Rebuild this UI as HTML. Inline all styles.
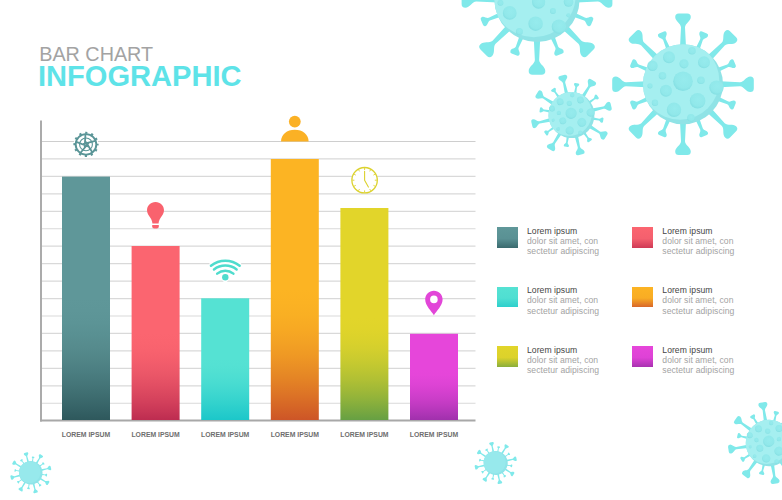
<!DOCTYPE html>
<html><head><meta charset="utf-8">
<style>
html,body{margin:0;padding:0;background:#fff;}
body{width:782px;height:500px;overflow:hidden;position:relative;font-family:"Liberation Sans",Arial,sans-serif;}
svg.bg{position:absolute;left:0;top:0;}
.t1{position:absolute;left:39.2px;top:42px;font-size:19.8px;color:#a3a3a3;line-height:24px;white-space:nowrap;}
.t2{position:absolute;left:38.4px;top:58.7px;font-size:30.3px;font-weight:bold;color:#5ee3e8;line-height:34px;white-space:nowrap;transform:scaleX(0.96);transform-origin:0 0;}
.lbl{position:absolute;top:430px;width:70px;text-align:center;font-size:6.85px;font-weight:bold;color:#6e6e6e;line-height:10px;white-space:nowrap;}
.lg{position:absolute;}
.sw{position:absolute;width:20.5px;height:20.5px;}
.lt{position:absolute;font-size:8.6px;line-height:10.15px;color:#a3a3a3;white-space:nowrap;letter-spacing:0.05px;}
.lt b{font-weight:normal;color:#454545;display:block;}
</style></head>
<body>
<svg class="bg" width="782" height="500" viewBox="0 0 782 500">
<defs>
  <linearGradient id="g1" x1="0" y1="0" x2="0" y2="1"><stop offset="0" stop-color="#5f9799"/><stop offset="0.500" stop-color="#5f9799"/><stop offset="0.550" stop-color="#5e9698"/><stop offset="0.600" stop-color="#5c9496"/><stop offset="0.650" stop-color="#599092"/><stop offset="0.700" stop-color="#568b8d"/><stop offset="0.750" stop-color="#518587"/><stop offset="0.800" stop-color="#4b7e81"/><stop offset="0.850" stop-color="#457679"/><stop offset="0.900" stop-color="#3e6d70"/><stop offset="0.950" stop-color="#366367"/><stop offset="1.000" stop-color="#2e585c"/></linearGradient>
  <linearGradient id="g2" x1="0" y1="0" x2="0" y2="1"><stop offset="0" stop-color="#fb6570"/><stop offset="0.500" stop-color="#fb6570"/><stop offset="0.550" stop-color="#fa646f"/><stop offset="0.600" stop-color="#f8626e"/><stop offset="0.650" stop-color="#f45e6c"/><stop offset="0.700" stop-color="#ef5a6a"/><stop offset="0.750" stop-color="#e95567"/><stop offset="0.800" stop-color="#e24e63"/><stop offset="0.850" stop-color="#da475f"/><stop offset="0.900" stop-color="#d23f5b"/><stop offset="0.950" stop-color="#c83656"/><stop offset="1.000" stop-color="#bd2c50"/></linearGradient>
  <linearGradient id="g3" x1="0" y1="0" x2="0" y2="1"><stop offset="0" stop-color="#55e2d3"/><stop offset="0.500" stop-color="#55e2d3"/><stop offset="0.550" stop-color="#54e1d3"/><stop offset="0.600" stop-color="#51e0d2"/><stop offset="0.650" stop-color="#4dded2"/><stop offset="0.700" stop-color="#48dcd1"/><stop offset="0.750" stop-color="#42d9d0"/><stop offset="0.800" stop-color="#3bd6cf"/><stop offset="0.850" stop-color="#34d3cd"/><stop offset="0.900" stop-color="#2ccfcc"/><stop offset="0.950" stop-color="#24cbcb"/><stop offset="1.000" stop-color="#1bc7c9"/></linearGradient>
  <linearGradient id="g4" x1="0" y1="0" x2="0" y2="1"><stop offset="0" stop-color="#fcb423"/><stop offset="0.500" stop-color="#fcb423"/><stop offset="0.550" stop-color="#fbb223"/><stop offset="0.600" stop-color="#f9af23"/><stop offset="0.650" stop-color="#f7a923"/><stop offset="0.700" stop-color="#f3a224"/><stop offset="0.750" stop-color="#ef9924"/><stop offset="0.800" stop-color="#e98e25"/><stop offset="0.850" stop-color="#e38225"/><stop offset="0.900" stop-color="#dd7426"/><stop offset="0.950" stop-color="#d56526"/><stop offset="1.000" stop-color="#cd5527"/></linearGradient>
  <linearGradient id="g5" x1="0" y1="0" x2="0" y2="1"><stop offset="0" stop-color="#e2d52a"/><stop offset="0.520" stop-color="#e2d52a"/><stop offset="0.568" stop-color="#e0d42a"/><stop offset="0.616" stop-color="#dbd22b"/><stop offset="0.664" stop-color="#d4cf2d"/><stop offset="0.712" stop-color="#cacb2f"/><stop offset="0.760" stop-color="#bec631"/><stop offset="0.808" stop-color="#b1c034"/><stop offset="0.856" stop-color="#a1b937"/><stop offset="0.904" stop-color="#8fb23b"/><stop offset="0.952" stop-color="#7ba93f"/><stop offset="1.000" stop-color="#66a043"/></linearGradient>
  <linearGradient id="g6" x1="0" y1="0" x2="0" y2="1"><stop offset="0" stop-color="#e646da"/><stop offset="0.420" stop-color="#e646da"/><stop offset="0.478" stop-color="#e546d9"/><stop offset="0.536" stop-color="#e145d7"/><stop offset="0.594" stop-color="#dd43d4"/><stop offset="0.652" stop-color="#d741d0"/><stop offset="0.710" stop-color="#d03fcc"/><stop offset="0.768" stop-color="#c93dc7"/><stop offset="0.826" stop-color="#c03ac1"/><stop offset="0.884" stop-color="#b637bb"/><stop offset="0.942" stop-color="#ab34b4"/><stop offset="1.000" stop-color="#a030ac"/></linearGradient>
  <g id="spL"><path d="M-3,-37 L-2,-57 C-2.2,-61 -7.8,-63 -7.8,-67.3 Q-7.8,-70.8 -4.3,-70.8 L4.3,-70.8 Q7.8,-70.8 7.8,-67.3 C7.8,-63 2.2,-61 2,-57 L3,-37 Z"/></g>
  <g id="spS"><path d="M-2.1,-37 L-1.4,-48.5 C-1.5,-50.7 -4.6,-51.7 -4.6,-54 Q-4.6,-56 -2.6,-56 L2.6,-56 Q4.6,-56 4.6,-54 C4.6,-51.7 1.5,-50.7 1.4,-48.5 L2.1,-37 Z"/></g>
  <g id="spikes" fill="#80e9ea">
    <use href="#spL"/><use href="#spL" transform="rotate(45)"/><use href="#spL" transform="rotate(90)"/><use href="#spL" transform="rotate(135)"/>
    <use href="#spL" transform="rotate(180)"/><use href="#spL" transform="rotate(225)"/><use href="#spL" transform="rotate(270)"/><use href="#spL" transform="rotate(315)"/>
    <use href="#spS" transform="rotate(22.5)"/><use href="#spS" transform="rotate(67.5)"/><use href="#spS" transform="rotate(112.5)"/><use href="#spS" transform="rotate(157.5)"/>
    <use href="#spS" transform="rotate(202.5)"/><use href="#spS" transform="rotate(247.5)"/><use href="#spS" transform="rotate(292.5)"/><use href="#spS" transform="rotate(337.5)"/>
  </g>
  <clipPath id="bodyclip"><circle r="40"/></clipPath>
  <radialGradient id="spotg" cx="0.55" cy="0.4" r="0.62"><stop offset="0" stop-color="#96ebed"/><stop offset="0.7" stop-color="#91e8ea"/><stop offset="1" stop-color="#83dee2"/></radialGradient>
  <g id="vbody">
    <use href="#spikes"/>
    <circle r="40" fill="#90e3e6"/>
    <circle cx="-3" cy="-3.8" r="39.3" fill="#a5eff0" clip-path="url(#bodyclip)"/>
  </g>
  <g id="spotsA" fill="url(#spotg)">
        <circle cx="0.0" cy="-3.0" r="9.8"/>
        <circle cx="-14.0" cy="-27.0" r="6.0"/>
        <circle cx="1.0" cy="-20.5" r="4.6"/>
        <circle cx="9.0" cy="-33.5" r="3.8"/>
        <circle cx="21.0" cy="-22.0" r="6.0"/>
        <circle cx="-30.5" cy="-18.5" r="5.2"/>
        <circle cx="-20.5" cy="-8.5" r="3.8"/>
        <circle cx="18.0" cy="-4.0" r="3.8"/>
        <circle cx="33.5" cy="3.3" r="7.2"/>
        <circle cx="-17.0" cy="6.5" r="6.0"/>
        <circle cx="-33.0" cy="1.5" r="2.6"/>
        <circle cx="14.6" cy="16.5" r="7.8"/>
        <circle cx="-9.0" cy="25.5" r="7.2"/>
        <circle cx="-28.0" cy="18.5" r="3.2"/>
        <circle cx="8.0" cy="33.5" r="3.8"/>
  </g>
  <g id="spotsT" fill="url(#spotg)" clip-path="url(#bodyclip)">
        <circle cx="-25.6" cy="12.7" r="6.5"/>
        <circle cx="-1.3" cy="22.8" r="6.8"/>
        <circle cx="20.6" cy="25.6" r="6.8"/>
        <circle cx="-16.5" cy="30.1" r="3.3"/>
        <circle cx="15.0" cy="10.9" r="2.8"/>
        <circle cx="1.5" cy="2.5" r="6.2"/>
        <circle cx="29.6" cy="2.5" r="4.5"/>
        <circle cx="29.6" cy="14.9" r="2.0"/>
        <circle cx="-15.7" cy="-6.0" r="4.6"/>
        <circle cx="-34.3" cy="3.2" r="2.8"/>
  </g>
  <g id="virus"><use href="#vbody"/><use href="#spotsA"/></g>
  <g id="virusT"><use href="#vbody"/><use href="#spotsT"/></g>
  <g id="virusS">
    <use href="#spikes"/>
    <circle r="40" fill="#8fe4e8"/>
    <circle cx="-3" cy="-3" r="37" fill="#97e9ec"/>
  </g>
</defs>

<!-- viruses -->
<use href="#virusT" transform="translate(537,-0.6) scale(1.065)"/>
<use href="#virus" transform="translate(683,84.3)"/>
<use href="#virus" transform="translate(571.5,115) rotate(-13) scale(0.575)"/>
<use href="#virus" transform="translate(769,443) rotate(-9) scale(0.58)"/>
<use href="#virusS" transform="translate(30.8,472.8) rotate(-14) scale(0.293)"/>
<use href="#virusS" transform="translate(495.7,463) rotate(-12) scale(0.3)"/>

<!-- grid -->
<g stroke="#d9d9d9" stroke-width="1.2">
  <line x1="41" x2="475.5" y1="141.5" y2="141.5" stroke="#cecece"/>
  <line x1="41" x2="475.5" y1="158.95" y2="158.95"/>
  <line x1="41" x2="475.5" y1="176.4" y2="176.4"/>
  <line x1="41" x2="475.5" y1="193.85" y2="193.85"/>
  <line x1="41" x2="475.5" y1="211.3" y2="211.3"/>
  <line x1="41" x2="475.5" y1="228.75" y2="228.75"/>
  <line x1="41" x2="475.5" y1="246.2" y2="246.2"/>
  <line x1="41" x2="475.5" y1="263.65" y2="263.65"/>
  <line x1="41" x2="475.5" y1="281.1" y2="281.1"/>
  <line x1="41" x2="475.5" y1="298.55" y2="298.55"/>
  <line x1="41" x2="475.5" y1="316" y2="316"/>
  <line x1="41" x2="475.5" y1="333.45" y2="333.45"/>
  <line x1="41" x2="475.5" y1="350.9" y2="350.9"/>
  <line x1="41" x2="475.5" y1="368.35" y2="368.35"/>
  <line x1="41" x2="475.5" y1="385.8" y2="385.8"/>
  <line x1="41" x2="475.5" y1="403.25" y2="403.25"/>
</g>
<line x1="41" x2="41" y1="120.5" y2="421.5" stroke="#ababab" stroke-width="2"/>
<line x1="40" x2="475.5" y1="420.6" y2="420.6" stroke="#a8a8a8" stroke-width="2"/>

<!-- bars -->
<rect x="62" y="176.6" width="48" height="243.4" fill="url(#g1)"/>
<rect x="131.6" y="246" width="48" height="174" fill="url(#g2)"/>
<rect x="201.2" y="298.3" width="48" height="121.7" fill="url(#g3)"/>
<rect x="270.8" y="159" width="48" height="261" fill="url(#g4)"/>
<rect x="340.4" y="208" width="48" height="212" fill="url(#g5)"/>
<rect x="410" y="333.8" width="48" height="86.2" fill="url(#g6)"/>

<!-- icons -->
<!-- gear -->
<g transform="translate(86,144.4)" fill="none" stroke="#5a9597">
  <circle r="12.4" fill="#fff" stroke="none"/>
  <circle r="10.3" stroke-width="1.9"/>
  <circle r="11.6" stroke-width="2" stroke-dasharray="2.2 3.87" stroke-dashoffset="1.1"/>
  <circle r="6.4" stroke-width="1.1"/>
  <path d="M-0.52,-9.99 L-1.29,2.07 M9.34,-3.58 L-2.37,-0.59 M6.29,7.77 L-0.17,-2.44 M-5.45,8.39 L2.26,-0.91 M-9.66,-2.59 L1.57,1.87" stroke-width="1.8" stroke-linecap="round"/>
</g>
<!-- bulb -->
<g fill="#f9626e">
  <path d="M155.5,202 C150.5,202 147,205.8 147,210.3 C147,213.8 149,215.6 150.5,218 C151.6,219.8 152.3,221.5 152.4,223.6 L158.6,223.6 C158.7,221.5 159.4,219.8 160.5,218 C162,215.6 164,213.8 164,210.3 C164,205.8 160.5,202 155.5,202 Z"/>
  <path d="M152.2,225 L158.8,225 L158.8,226.6 Q158.8,228.6 156.8,228.6 L154.2,228.6 Q152.2,228.6 152.2,226.6 Z"/>
</g>
<!-- wifi -->
<path d="M225.3,284 L209.2,263.4 A26,26 0 0 1 241.4,263.4 Z" fill="#fff"/>
<g transform="translate(225.3,284)" fill="none" stroke="#4fdccd" stroke-width="2.5" stroke-linecap="round">
  <circle cx="0" cy="-6.7" r="3.2" fill="#4fdccd" stroke="none"/>
  <path d="M-8.10,-10.36 A13.15,13.15 0 0 1 8.10,-10.36"/>
  <path d="M-11.33,-14.50 A18.40,18.40 0 0 1 11.33,-14.50"/>
  <path d="M-14.34,-18.36 A23.30,23.30 0 0 1 14.34,-18.36"/>
</g>
<!-- person -->
<g fill="#fbb125">
  <circle cx="294.8" cy="121.6" r="5.9"/>
  <path d="M281,141.5 C281,134.5 287,129.8 294.8,129.8 C302.6,129.8 308.6,134.5 308.6,141.5 Z"/>
</g>
<!-- clock -->
<g transform="translate(364.6,180.2)" fill="none" stroke="#dcd22e">
  <circle r="12.7" fill="#fff" stroke-width="1.3"/>
  <g stroke-width="0.9">
    <line x1="0.00" y1="-12.20" x2="0.00" y2="-10.20"/>
    <line x1="6.10" y1="-10.57" x2="5.10" y2="-8.83"/>
    <line x1="10.57" y1="-6.10" x2="8.83" y2="-5.10"/>
    <line x1="12.20" y1="-0.00" x2="10.20" y2="-0.00"/>
    <line x1="10.57" y1="6.10" x2="8.83" y2="5.10"/>
    <line x1="6.10" y1="10.57" x2="5.10" y2="8.83"/>
    <line x1="0.00" y1="12.20" x2="0.00" y2="10.20"/>
    <line x1="-6.10" y1="10.57" x2="-5.10" y2="8.83"/>
    <line x1="-10.57" y1="6.10" x2="-8.83" y2="5.10"/>
    <line x1="-12.20" y1="0.00" x2="-10.20" y2="0.00"/>
    <line x1="-10.57" y1="-6.10" x2="-8.83" y2="-5.10"/>
    <line x1="-6.10" y1="-10.57" x2="-5.10" y2="-8.83"/>
  </g>
  <path d="M0,-9 L0,0 L3.8,6.9" stroke-width="1.1" stroke-linecap="round" stroke-linejoin="round"/>
</g>
<!-- pin -->
<circle cx="433.9" cy="299.4" r="4" fill="#fff"/>
<g fill="#e246d8">
  <path fill-rule="evenodd" d="M433.9,315.2 C431.5,311.5 425.2,305.5 425.2,299.6 C425.2,294.6 429.1,290.8 433.9,290.8 C438.7,290.8 442.6,294.6 442.6,299.6 C442.6,305.5 436.3,311.5 433.9,315.2 Z M433.9,295.6 A3.8,3.8 0 1 0 433.9,303.2 A3.8,3.8 0 1 0 433.9,295.6 Z"/>
</g>
</svg>

<div class="t1">BAR CHART</div>
<div class="t2">INFOGRAPHIC</div>

<div class="lbl" style="left:51px">LOREM IPSUM</div>
<div class="lbl" style="left:120.6px">LOREM IPSUM</div>
<div class="lbl" style="left:190.2px">LOREM IPSUM</div>
<div class="lbl" style="left:259.8px">LOREM IPSUM</div>
<div class="lbl" style="left:329.4px">LOREM IPSUM</div>
<div class="lbl" style="left:399px">LOREM IPSUM</div>

<!-- legend -->
<div class="sw" style="left:497px;top:227px;background:linear-gradient(#5f9799 0%,#5a9194 55%,#3a6a6e 100%)"></div>
<div class="lt" style="left:527px;top:225.6px"><b>Lorem ipsum</b>dolor sit amet, con<br>sectetur adipiscing</div>
<div class="sw" style="left:632.2px;top:227px;background:linear-gradient(#fb6570 0%,#f4606e 55%,#cf3a56 100%)"></div>
<div class="lt" style="left:662.3px;top:225.6px"><b>Lorem ipsum</b>dolor sit amet, con<br>sectetur adipiscing</div>

<div class="sw" style="left:497px;top:286.7px;background:linear-gradient(#55e2d3 0%,#50dfd2 55%,#2dcfcc 100%)"></div>
<div class="lt" style="left:527px;top:285.3px"><b>Lorem ipsum</b>dolor sit amet, con<br>sectetur adipiscing</div>
<div class="sw" style="left:632.2px;top:286.7px;background:linear-gradient(#fcb323 0%,#f9ad24 55%,#d8672a 100%)"></div>
<div class="lt" style="left:662.3px;top:285.3px"><b>Lorem ipsum</b>dolor sit amet, con<br>sectetur adipiscing</div>

<div class="sw" style="left:497px;top:346.2px;background:linear-gradient(#e2d52a 0%,#dcd22b 55%,#8aae3c 100%)"></div>
<div class="lt" style="left:527px;top:345.1px"><b>Lorem ipsum</b>dolor sit amet, con<br>sectetur adipiscing</div>
<div class="sw" style="left:632.2px;top:346.2px;background:linear-gradient(#e646da 0%,#de42d6 55%,#a832b0 100%)"></div>
<div class="lt" style="left:662.3px;top:345.1px"><b>Lorem ipsum</b>dolor sit amet, con<br>sectetur adipiscing</div>
</body></html>
